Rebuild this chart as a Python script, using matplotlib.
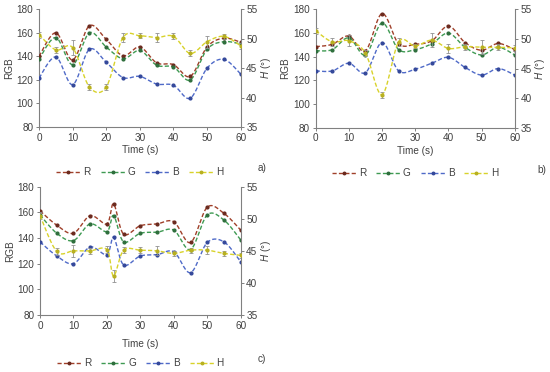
import numpy as np
import matplotlib
matplotlib.use("Agg")
import matplotlib.pyplot as plt
from matplotlib.lines import Line2D

plt.rcParams['font.family'] = ['Liberation Sans', 'DejaVu Sans']
plt.rcParams['mathtext.fontset'] = 'custom'
plt.rcParams['mathtext.it'] = 'Liberation Sans:italic'
plt.rcParams['mathtext.rm'] = 'Liberation Sans'

# ---------------- data ----------------
time_ab = [0, 5, 10, 15, 20, 25, 30, 35, 40, 45, 50, 55, 60]
time_c = [0, 5, 10, 15, 20, 22, 25, 30, 35, 40, 45, 50, 55, 60]

a_R = [140, 160, 137, 166, 154.5, 140.5, 148, 134.5, 133, 123, 148, 155.5, 152]
a_G = [137.5, 156, 133, 160, 148, 138, 145, 132.5, 131, 120, 146, 152.5, 150.5]
a_B = [121.5, 139.5, 116, 146, 135, 122, 123, 116.5, 115.5, 104.5, 130, 137.5, 125]
a_H = [50.7, 48.1, 48.5, 41.8, 41.8, 50.2, 50.5, 50.2, 50.4, 47.5, 49.5, 50.4, 48.8]
a_Herr = [0.5, 0.5, 1.2, 0.5, 0.5, 0.7, 0.4, 0.8, 0.5, 0.5, 1.0, 0.4, 0.5]

b_R = [148.5, 150.5, 157.5, 145, 176.5, 151, 150.5, 153.5, 166, 152, 145.5, 151.2, 146]
b_G = [145, 146, 156, 141.5, 168.5, 146, 146, 151, 160, 148, 141.5, 148, 141.5]
b_B = [128, 128, 134.5, 126.5, 152, 128, 129.5, 134.5, 139.5, 131, 124.5, 130, 124.5]
b_H = [51.4, 49.5, 49.7, 47.6, 40.6, 49.5, 48.8, 49.8, 48.4, 48.7, 48.6, 48.6, 48.5]
b_Herr = [0.5, 0.7, 0.9, 0.5, 0.5, 0.7, 0.4, 1.2, 0.7, 0.5, 1.2, 0.5, 0.5]

c_R = [161.2, 150, 143.7, 157.4, 151, 166.5, 143, 149.6, 151, 152.7, 136.5, 164, 159.2, 146.2]
c_G = [158, 143.7, 138, 151, 145, 157.5, 137, 143.7, 144.5, 146.2, 131, 158, 154, 138.5]
c_B = [137, 126, 120, 133, 127, 140.5, 119, 126, 127, 129.3, 113, 136.5, 137, 121.5]
c_H = [50.5, 44.9, 45.0, 45.0, 45.2, 41.1, 45.1, 45.1, 45.0, 44.6, 45.1, 45.1, 44.6, 44.3]
c_Herr = [0.5, 0.6, 0.9, 0.5, 0.5, 0.9, 0.5, 0.5, 0.7, 0.4, 0.4, 0.6, 0.4, 0.4]

series_names = ['R', 'G', 'B', 'H']
colors = {'R': '#A0402A', 'G': '#3E9A52', 'B': '#4F6AC8', 'H': '#D8D22A'}
mcolors = {'R': '#6B2A1E', 'G': '#2E6E3C', 'B': '#34489A', 'H': '#B8B020'}
AXC = '#808080'


def smooth(x, y, n=20):
    # Catmull-Rom style curve through the points (Excel "smoothed line" look)
    x = np.asarray(x, float)
    y = np.asarray(y, float)
    px = np.concatenate([[x[0]], x, [x[-1]]])
    py = np.concatenate([[y[0]], y, [y[-1]]])
    xs, ys = [], []
    t = np.linspace(0, 1, n)
    for i in range(1, len(px) - 2):
        p0 = np.array([px[i - 1], py[i - 1]])
        p1 = np.array([px[i], py[i]])
        p2 = np.array([px[i + 1], py[i + 1]])
        p3 = np.array([px[i + 2], py[i + 2]])
        c1 = p1 + (p2 - p0) / 6.0
        c2 = p2 - (p3 - p1) / 6.0
        b = ((1 - t) ** 3)[:, None] * p1 + (3 * (1 - t) ** 2 * t)[:, None] * c1 \
            + (3 * (1 - t) * t ** 2)[:, None] * c2 + (t ** 3)[:, None] * p2
        xs.extend(b[:, 0]); ys.extend(b[:, 1])
    return np.array(xs), np.array(ys)


def panel(rect, x, R, G, B, H, Herr, tag, tagpos, legy, xlab_pad):
    ax = fig.add_axes(rect)
    ax2 = ax.twinx()
    for name, vals in (('R', R), ('G', G), ('B', B)):
        sx, sy = smooth(x, vals)
        ax.plot(sx, sy, ls=(0, (3, 1.6)), color=colors[name], lw=1.0, zorder=3)
        ax.plot(x, vals, ls='none', marker='o', ms=2.0, color=mcolors[name], zorder=4)
    sx, sy = smooth(x, H)
    ax2.plot(sx, sy, ls=(0, (3, 1.6)), color=colors['H'], lw=1.0, zorder=3)
    ax2.errorbar(x, H, yerr=Herr, fmt='none', ecolor='#909090', elinewidth=0.6,
                 capsize=1.6, capthick=0.6, zorder=2)
    ax2.plot(x, H, ls='none', marker='o', ms=2.0, color=mcolors['H'], zorder=4)

    ax.set_xlim(0, 60)
    ax.set_ylim(80, 180)
    ax2.set_ylim(35, 55)
    ax.set_xticks([0, 10, 20, 30, 40, 50, 60])
    ax.set_yticks([80, 100, 120, 140, 160, 180])
    ax2.set_yticks([35, 40, 45, 50, 55])
    for a in (ax, ax2):
        a.spines['top'].set_visible(False)
        for s in a.spines.values():
            s.set_color(AXC)
            s.set_linewidth(0.8)
        a.tick_params(labelsize=7.2, colors='#404040', length=2.5, width=0.7,
                      color=AXC, pad=1.5)
    ax.spines['right'].set_visible(False)
    ax2.spines['left'].set_visible(False)
    ax2.spines['bottom'].set_visible(False)
    ax.set_ylabel('RGB', fontsize=7.2, color='#404040', labelpad=2)
    ax2.set_ylabel('$H$ (°)', fontsize=7.2, color='#404040', labelpad=1, rotation=90)
    ax.set_xlabel('Time (s)', fontsize=7.2, color='#404040', labelpad=xlab_pad)

    handles = [Line2D([0], [0], ls=(0, (3, 1.6)), color=colors[n], lw=1.0,
                      marker='o', ms=1.8, mfc=mcolors[n], mec=mcolors[n])
               for n in series_names]
    cx = rect[0] + rect[2] * 0.5
    fig.legend(handles, series_names, loc='center', bbox_to_anchor=(cx, legy),
               ncol=4, frameon=False, fontsize=7.2, handlelength=2.4,
               handletextpad=0.3, columnspacing=1.0, labelcolor='#404040')
    fig.text(tagpos[0], tagpos[1], tag, fontsize=7.2, color='#404040',
             ha='center', va='center')
    return ax


fig = plt.figure(figsize=(5.5, 3.72), dpi=100)
panel([0.0709, 0.6586, 0.3667, 0.3164], time_ab, a_R, a_G, a_B, a_H, a_Herr,
      'a)', (262 / 550, 1 - 168 / 372), 1 - 172 / 372, 2)
panel([0.574, 0.6567, 0.362, 0.318], time_ab, b_R, b_G, b_B, b_H, b_Herr,
      'b)', (542 / 550, 1 - 170 / 372), 1 - 173 / 372, 2)
panel([0.0727, 0.1532, 0.3649, 0.345], time_c, c_R, c_G, c_B, c_H, c_Herr,
      'c)', (262 / 550, 1 - 359 / 372), 1 - 363 / 372, 6)

fig.savefig('out.png', dpi=100)
